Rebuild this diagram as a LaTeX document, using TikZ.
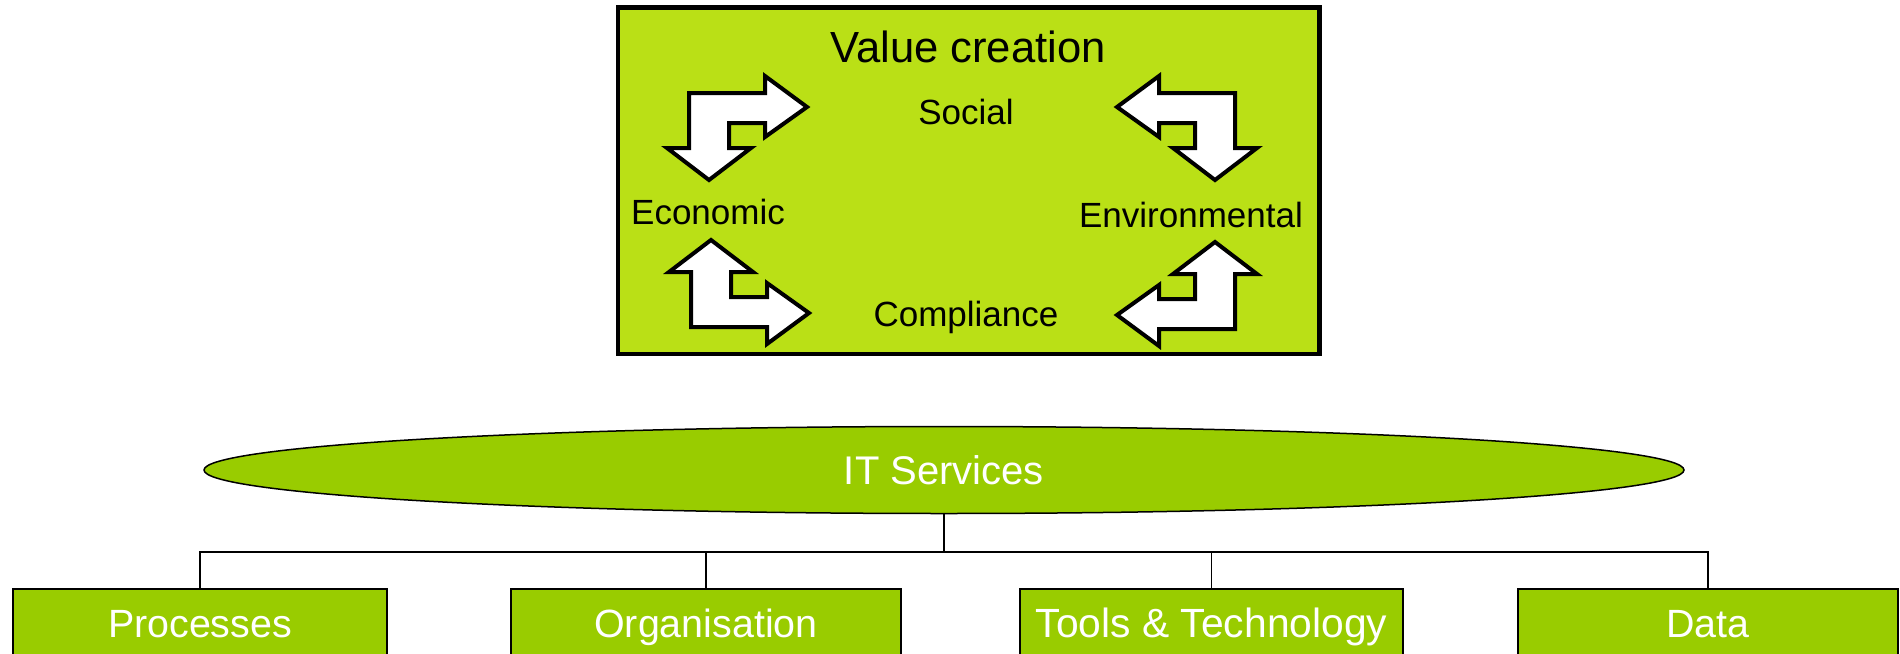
\documentclass[tikz,border=0pt]{standalone}
\usepackage{fontspec}
\setmainfont{Liberation Sans}
\usetikzlibrary{shapes.geometric}
\definecolor{topgreen}{RGB}{186,224,22}
\definecolor{itgreen}{RGB}{153,204,0}
\begin{document}
\begin{tikzpicture}[x=0.5pt,y=-0.5pt,
  bentline/.style={draw=black, fill=white, line width=2pt, miter limit=10},
  thinline/.style={line width=0.75pt},
  lbl/.style={font=\fontsize{17.5}{20}\selectfont, inner sep=0pt, anchor=base},
  comp/.style={draw=black, line width=0.75pt, fill=itgreen, text=white, inner sep=0pt,
    text height=14.3pt, text depth=0pt, minimum height=34pt, font=\fontsize{19.7}{24}\selectfont},
  bentarr/.pic={\draw[bentline] (0,0) -- (0,55) -- (-22,55) -- (20,87) -- (62,55) -- (40,55)
     -- (40,30) -- (76,30) -- (76,44) -- (118,14) -- (76,-17) -- (76,0) -- cycle;}
]
\useasboundingbox (0,0) rectangle (1900,653);
\clip (0,0) rectangle (1900,653);
% value creation box
\node[draw=black, line width=2.2pt, fill=topgreen, minimum width=350.75pt, minimum height=173.25pt, inner sep=0pt] (vc) at (968.75,180.75) {};
\node[font=\fontsize{21.8}{26}\selectfont, anchor=base, inner sep=0pt] (title) at (968,62) {Value creation};
\node[lbl] (social) at (966,124) {Social};
\node[lbl] (econ) at (708,224.5) {Economic};
\node[lbl] (env) at (1191,227) {Environmental};
\node[lbl] (compl) at (966,326.5) {Compliance};
% bent arrows
\pic (a1) at (689,93) {bentarr};
\pic[xscale=-1] (a2) at (1235,93) {bentarr};
\pic[yscale=-1] (a3) at (691,327) {bentarr};
\pic[xscale=-1,yscale=-1] (a4) at (1235,329) {bentarr};
% IT services
\node[ellipse, draw=black, thinline, fill=itgreen, minimum width=740pt, minimum height=43.5pt, inner sep=0pt,
  text=white, font=\fontsize{20}{24}\selectfont, text height=14.3pt, text depth=0pt] (its) at (944,470) {IT Services};
% components
\node[comp, minimum width=187pt] (proc) at (200,623) {Processes};
\node[comp, minimum width=195pt] (org) at (706,623) {Organisation};
\node[comp, minimum width=191.5pt, font=\fontsize{20.4}{24}\selectfont] (tools) at (1211.5,623) {Tools \& Technology};
\node[comp, minimum width=190pt] (data) at (1708,623) {Data};
% connectors
\coordinate (hub) at (944,552);
\draw[thinline] (its.south) -- (hub);
\draw[thinline] (hub) -| (proc.north);
\draw[thinline] (hub) -| (org.north);
\draw[thinline] (hub) -| (tools.north);
\draw[thinline] (hub) -| (data.north);
\end{tikzpicture}
\end{document}
